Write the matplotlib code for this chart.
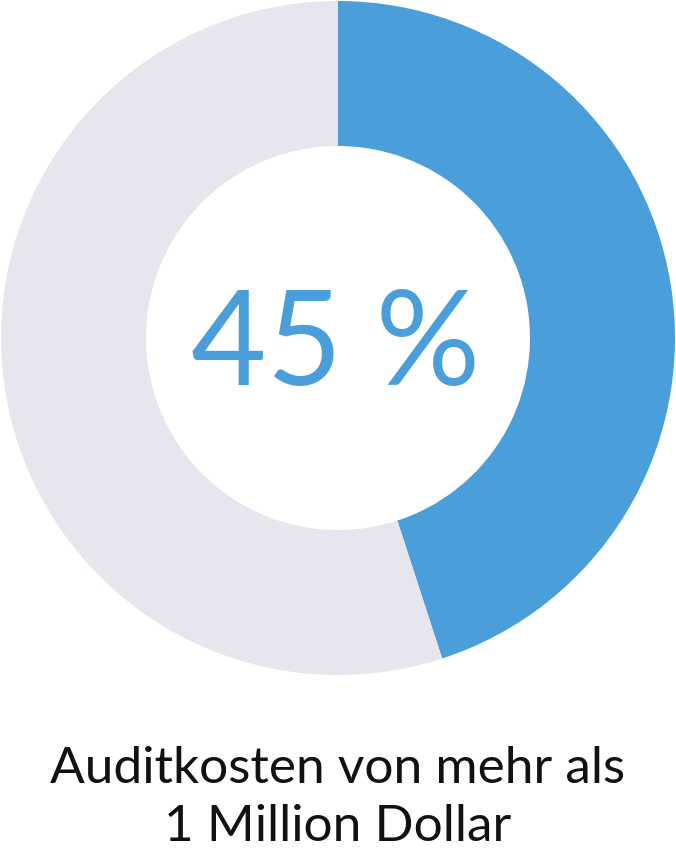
import matplotlib
matplotlib.use("Agg")
import matplotlib.pyplot as plt

labels = ["Auditkosten > 1 Mio. Dollar", "Rest"]
values = [45, 55]
colors = ["#4A9FDB", "#E6E7EE"]
center_label = "45 %"
caption = "Auditkosten von mehr als\n1 Million Dollar"

fig = plt.figure(figsize=(6.76, 8.58), dpi=100)
ax = fig.add_axes([0, 0, 1, 1])
ax.pie(values, colors=colors, center=(338, 520), radius=337, startangle=90,
       counterclock=False, wedgeprops=dict(width=145, linewidth=0), frame=True)
ax.set_xlim(0, 676)
ax.set_ylim(0, 858)
ax.set_aspect("equal")
ax.axis("off")
ax.text(336, 510, center_label, ha="center", va="center", fontsize=94,
        color="#4A9FDB", family=["Lato", "DejaVu Sans"], fontweight="normal")
ax.text(338, 60, caption, ha="center", va="center", fontsize=37,
        color="#111111", family=["Lato", "DejaVu Sans"], linespacing=1.35)
fig.savefig("out.png", dpi=100)
